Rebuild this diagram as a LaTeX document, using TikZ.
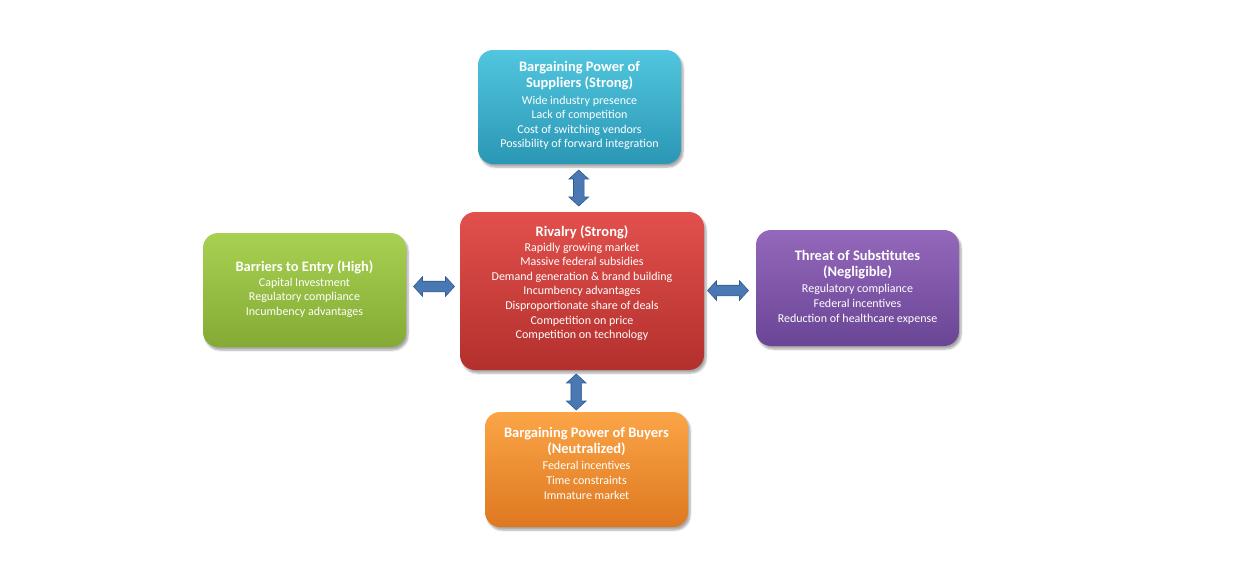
\documentclass[tikz,border=0pt]{standalone}
\usepackage{fontspec}
\setmainfont{Carlito}
\usetikzlibrary{shapes.arrows,shadows.blur,calc}
\definecolor{supT}{HTML}{52C6DE}
\definecolor{supB}{HTML}{2A97B5}
\definecolor{rivT}{HTML}{E2504C}
\definecolor{rivB}{HTML}{B3302D}
\definecolor{barT}{HTML}{A8D152}
\definecolor{barB}{HTML}{84AA34}
\definecolor{subT}{HTML}{9468BB}
\definecolor{subB}{HTML}{6A4595}
\definecolor{buyT}{HTML}{FBA547}
\definecolor{buyB}{HTML}{DE7820}
\definecolor{arrF}{HTML}{4A78B2}
\definecolor{arrD}{HTML}{2F5A8E}
\tikzset{
  forcebox/.style={rounded corners=15pt, inner sep=0pt,
    blur shadow={shadow xshift=2pt, shadow yshift=-3pt, shadow blur steps=6, shadow opacity=35}},
  boxtext/.style={text=white, align=center, inner sep=0pt,
    font=\fontsize{12}{14.6}\selectfont},
  darrow/.style={double arrow, draw=arrD, fill=arrF, line width=0.6pt,
    inner xsep=0pt, inner ysep=5pt, minimum width=19pt, double arrow head extend=4.5pt,
    double arrow tip angle=95},
}
\newcommand{\ttl}[1]{{\fontsize{14.5}{16}\bfseries #1}}
\begin{document}
\begin{tikzpicture}[x=1pt,y=-1pt]
\useasboundingbox (0,0) rectangle (1246,584);
% boxes
\shade[forcebox, top color=supT, bottom color=supB] (478,50) rectangle (681,164);
\node (sup) [minimum width=203pt, minimum height=114pt] at (579.5,107) {};
\shade[forcebox, top color=rivT, bottom color=rivB] (460,212) rectangle (704,370);
\node (riv) [minimum width=244pt, minimum height=158pt] at (582,291) {};
\shade[forcebox, top color=barT, bottom color=barB] (203,233) rectangle (406,347);
\node (bar) [minimum width=203pt, minimum height=114pt] at (304.5,290) {};
\shade[forcebox, top color=subT, bottom color=subB] (756,230) rectangle (959,346);
\node (sub) [minimum width=203pt, minimum height=116pt] at (857.5,288) {};
\shade[forcebox, top color=buyT, bottom color=buyB] (485,412) rectangle (688,527);
\node (buy) [minimum width=203pt, minimum height=115pt] at (586.5,469.5) {};
% texts
\node (supT) [boxtext] at (579.5,105.5) {\ttl{Bargaining Power of}\\[2pt]\ttl{Suppliers (Strong)}\\[1.5pt]Wide industry presence\\Lack of competition\\Cost of switching vendors\\Possibility of forward integration};
\node (rivT) [boxtext] at (582,283) {\ttl{Rivalry (Strong)}\\[0.5pt]Rapidly growing market\\Massive federal subsidies\\Demand generation \& brand building\\Incumbency advantages\\Disproportionate share of deals\\Competition on price\\Competition on technology};
\node (barT) [boxtext] at (304.5,289) {\ttl{Barriers to Entry (High)}\\[0.5pt]Capital Investment\\Regulatory compliance\\Incumbency advantages};
\node (subT) [boxtext] at (857.5,287) {\ttl{Threat of Substitutes}\\[2pt]\ttl{(Negligible)}\\[1.5pt]Regulatory compliance\\Federal incentives\\Reduction of healthcare expense};
\node (buyT) [boxtext] at (586.5,463) {\ttl{Bargaining Power of Buyers}\\[2pt]\ttl{(Neutralized)}\\[1.5pt]Federal incentives\\Time constraints\\Immature market};
% arrows
\node (a1) [darrow, rotate=90, minimum height=36pt] at ($(sup.south)!0.5!(riv.north)+(-2,0)$) {};
\node (a2) [darrow, rotate=90, minimum height=36pt] at ($(riv.south)!0.5!(buy.north)+(-8,1)$) {};
\node (a3) [darrow, minimum height=41pt] at ($(bar.east)!0.5!(riv.west)+(1,-4)$) {};
\node (a4) [darrow, minimum height=41pt] at ($(riv.east)!0.5!(sub.west)+(-2,1)$) {};
\end{tikzpicture}
\end{document}
